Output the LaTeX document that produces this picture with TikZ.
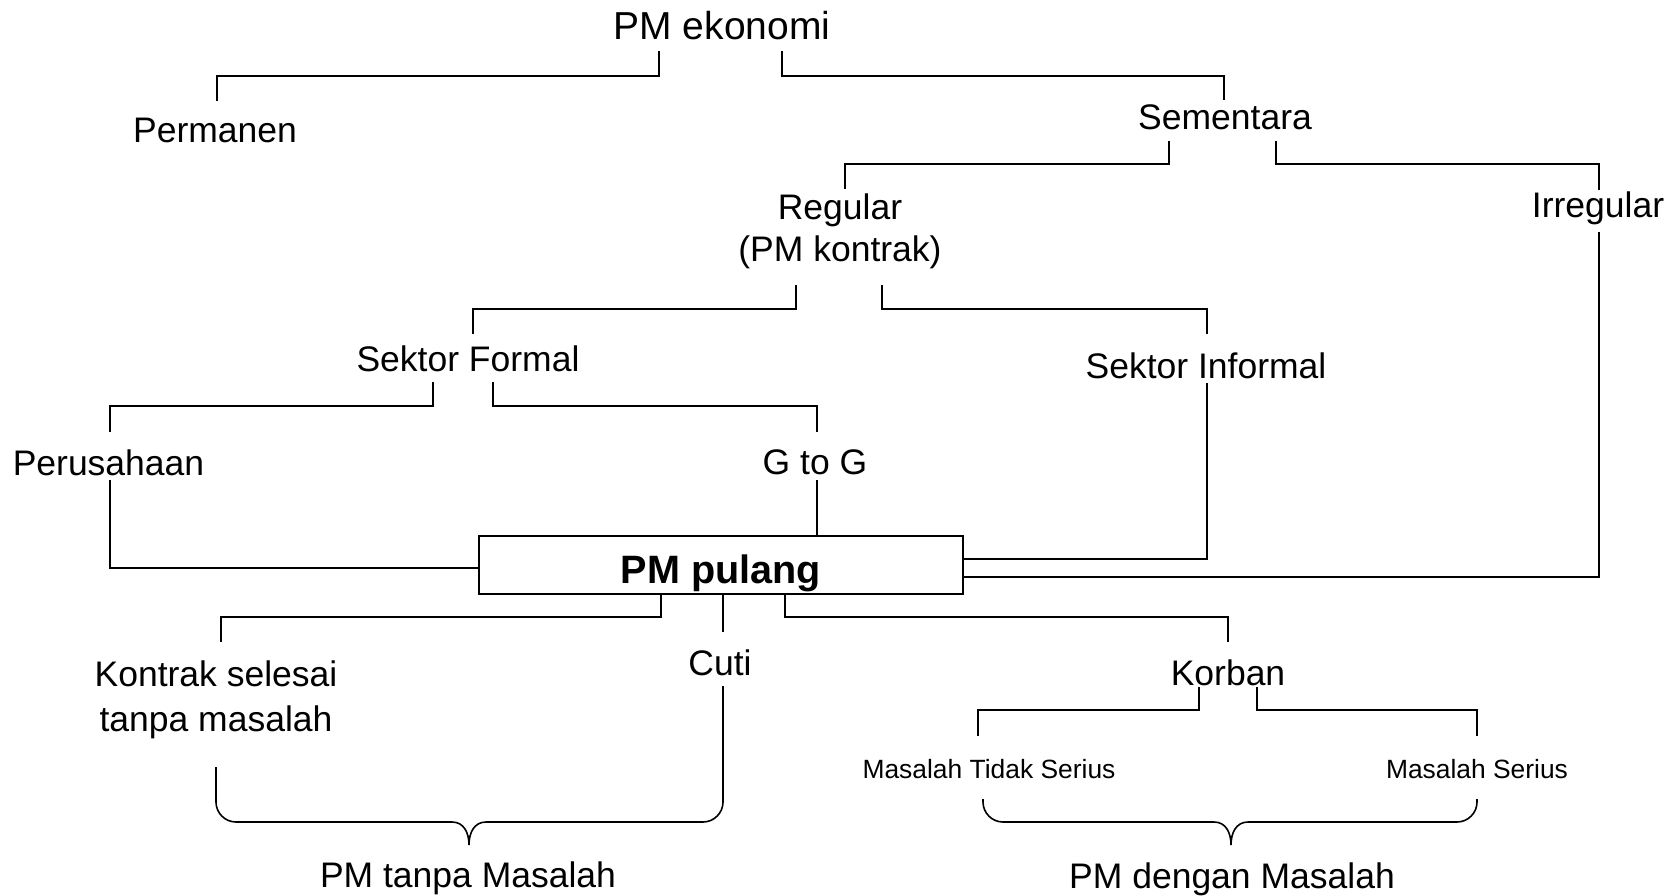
\documentclass[tikz,border=0pt]{standalone}
\usepackage{fontspec}
\setmainfont{Liberation Sans}
\usetikzlibrary{calc}
\newcommand\mybrace[3]{% left top, right top, tip
  \coordinate (#3m) at ($(#3)+(0,-23)$);
  \coordinate (#3p) at (#1 |- #3m);
  \coordinate (#3q) at (#2 |- #3m);
  \draw[conn] (#1) -- ($(#3p)+(0,-20)$)
    .. controls ($(#3p)+(0,-9)$) and ($(#3p)+(9,0)$) .. ($(#3p)+(20,0)$)
    -- ($(#3m)+(-17,0)$)
    .. controls ($(#3m)+(-5,0)$) and ($(#3)+(0,-12)$) .. (#3)
    .. controls ($(#3)+(0,-12)$) and ($(#3m)+(5,0)$) .. ($(#3m)+(17,0)$)
    -- ($(#3q)+(-20,0)$)
    .. controls ($(#3q)+(-9,0)$) and ($(#3q)+(0,-9)$) .. ($(#3q)+(0,-20)$)
    -- (#2);}
\begin{document}
\begin{tikzpicture}[x=1pt,y=-1pt,
  txt/.style={font=\fontsize{35.5}{42}\selectfont, inner sep=0pt, anchor=base, align=center},
  bigtxt/.style={txt, font=\fontsize{39}{46}\selectfont},
  smalltxt/.style={txt, font=\fontsize{26.4}{31}\selectfont},
  mainbox/.style={draw, line width=1.6pt, inner sep=0pt, minimum width=484pt, minimum height=58pt,
    font=\fontsize{39.6}{46}\selectfont\bfseries, text height=36pt, text depth=0pt},
  conn/.style={line width=1.6pt}]
\useasboundingbox (0,0) rectangle (1678,896);

% nodes (base = baseline of the last line)
\node[bigtxt] (eko) at (722,40) {PM ekonomi};
\node[txt] (perm) at (215,143) {Permanen};
\node[txt] (sem) at (1225,130) {Sementara};
\node[txt] (reg) at (840,261) {Regular\\(PM kontrak)};
\node[txt] (irr) at (1598,218) {Irregular};
\node[txt] (sf) at (468,371) {Sektor Formal};
\node[txt] (si) at (1206,378) {Sektor Informal};
\node[txt] (per) at (108.5,475) {Perusahaan};
\node[txt] (gg) at (815,474) {G to G};
\node[mainbox] (box) at (721,565) {PM pulang};
\node[txt, font=\fontsize{35.5}{45}\selectfont] (kon) at (216,731) {Kontrak selesai\\tanpa masalah};
\node[txt] (cuti) at (720,675) {Cuti};
\node[txt] (kor) at (1228,685) {Korban};
\node[smalltxt] (mts) at (989,778) {Masalah Tidak Serius};
\node[smalltxt] (ms) at (1477,778) {Masalah Serius};
\node[txt] (ptm) at (468,887) {PM tanpa Masalah};
\node[txt] (pdm) at (1232,888) {PM dengan Masalah};

% connectors
\draw[conn] ($(eko.base)+(-63,11)$) -- ++(0,25) -| ($(perm.base)+(2,-42)$);
\draw[conn] ($(eko.base)+(60,11)$) -- ++(0,25) -| ($(sem.base)+(-1,-30)$);
\draw[conn] ($(sem.base)+(-56,11)$) -- ++(0,23) -| ($(reg.base)+(5,-72)$);
\draw[conn] ($(sem.base)+(51,11)$) -- ++(0,23) -| ($(irr.base)+(1,-28)$);
\draw[conn] ($(reg.base)+(-44,24)$) -- ++(0,24) -| ($(sf.base)+(5,-37)$);
\draw[conn] ($(reg.base)+(42,24)$) -- ++(0,24) -| ($(si.base)+(1,-44)$);
\draw[conn] ($(sf.base)+(-35,11)$) -- ++(0,24) -| ($(per.base)+(1.5,-43)$);
\draw[conn] ($(sf.base)+(25,11)$) -- ++(0,24) -| ($(gg.base)+(2,-42)$);
\draw[conn] ($(per.base)+(1.5,5)$) |- ($(box.west)+(0,3)$);
\draw[conn] ($(gg.base)+(2,6)$) coordinate (g1) -- (g1 |- box.north);
\draw[conn] ($(si.base)+(1,5)$) |- ($(box.east)+(0,-6)$);
\draw[conn] ($(irr.base)+(1,14)$) |- ($(box.east)+(0,12)$);
\draw[conn] ($(box.south)+(-60,0)$) -- ++(0,22) -| ($(kon.base)+(5,-89)$);
\draw[conn] ($(box.south)+(2,0)$) -- ($(cuti.base)+(3,-43)$);
\draw[conn] ($(box.south)+(64,0)$) -- ++(0,22) -| ($(kor.base)+(0,-43)$);
\draw[conn] ($(kor.base)+(-29,2)$) -- ++(0,23) -| ($(mts.base)+(-11,-42)$);
\draw[conn] ($(kor.base)+(29,2)$) -- ++(0,23) -| ($(ms.base)+(0,-42)$);

% braces
\coordinate (b1L) at ($(kon.base)+(0,36)$);
\coordinate (b1R) at ($(cuti.base)+(3,11)$);
\coordinate (b1T) at ($(ptm.base)+(1,-42)$);
\mybrace{b1L}{b1R}{b1T}
\coordinate (b2L) at ($(mts.base)+(-6,21)$);
\coordinate (b2R) at ($(ms.base)+(0,21)$);
\coordinate (b2T) at ($(pdm.base)+(-1,-43)$);
\mybrace{b2L}{b2R}{b2T}
\end{tikzpicture}
\end{document}
